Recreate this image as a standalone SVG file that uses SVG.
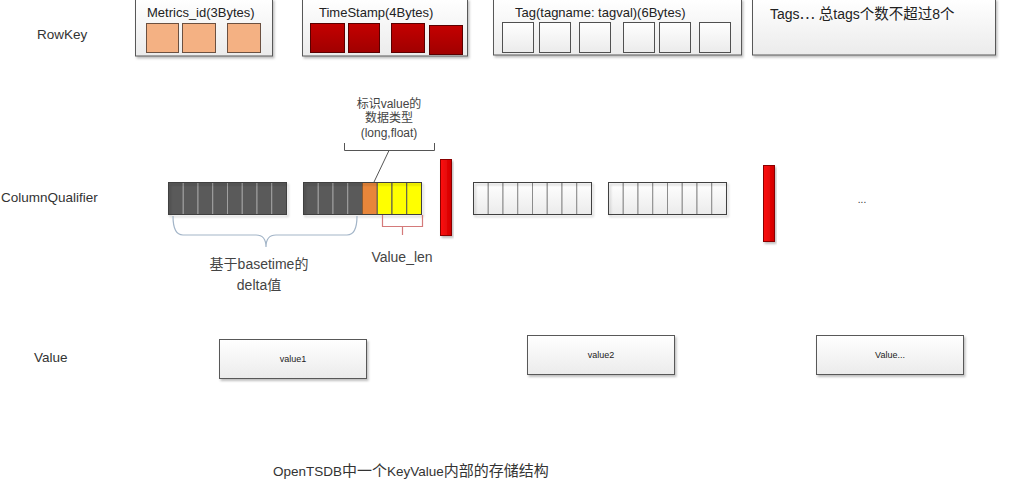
<svg xmlns="http://www.w3.org/2000/svg" width="1024" height="481" viewBox="0 0 1024 481">
<defs>
<linearGradient id="gBox" x1="0" y1="0" x2="0" y2="1"><stop offset="0" stop-color="#ffffff"/><stop offset="1" stop-color="#ebebeb"/></linearGradient>
<linearGradient id="gRed" x1="0" y1="0" x2="0" y2="1"><stop offset="0" stop-color="#c40000"/><stop offset="1" stop-color="#a00000"/></linearGradient>
<linearGradient id="gBar" x1="0" y1="0" x2="1" y2="0"><stop offset="0" stop-color="#ff1010"/><stop offset="1" stop-color="#d00000"/></linearGradient>
<filter id="sh" x="-10%" y="-10%" width="130%" height="140%"><feDropShadow dx="1.5" dy="2" stdDeviation="1.2" flood-color="#000" flood-opacity="0.25"/></filter>
</defs>
<style>
text{font-family:"Liberation Sans","Noto Sans CJK SC",sans-serif;fill:#333}
.lbl{font-size:13.5px}
.hdr{font-size:13px;fill:#222}
.cjk{font-size:15px}
.cjk2{font-family:"Noto Sans CJK SC",sans-serif;font-size:14.5px}
.box{fill:url(#gBox);stroke:#595959;stroke-width:1}
.sq1{fill:#f4b183;stroke:#6b5040;stroke-width:1}
.sq2{fill:url(#gRed);stroke:#5a0000;stroke-width:1}
.sq3{fill:url(#gBox);stroke:#505050;stroke-width:1}
.dk{fill:#5a5a5a;stroke:#a0a0a0;stroke-width:1}
.dko{fill:none;stroke:#404040;stroke-width:1}
.wh{fill:url(#gBox);stroke:#8c8c8c;stroke-width:1}
.who{fill:none;stroke:#404040;stroke-width:1}
.bar{fill:url(#gBar);stroke:#8a0000;stroke-width:1}
.vt{font-size:9px;fill:#222}
.note{font-size:12px;fill:#444}
.ann{font-size:14px;fill:#444}
</style>

<g id="labels">
<text class="lbl" x="37" y="39">RowKey</text>
<text class="lbl" x="1" y="202">ColumnQualifier</text>
<text class="lbl" x="34" y="362">Value</text>
<text class="lbl" x="273" y="476">OpenTSDB<tspan class="cjk">中一个</tspan>KeyValue<tspan class="cjk">内部的存储结构</tspan></text>
</g>

<g id="metrics">
<rect class="box" x="135.5" y="-1" width="137" height="57" filter="url(#sh)"/>
<text class="hdr" x="147" y="17">Metrics_id(3Bytes)</text>
<rect class="sq1" x="146.5" y="23.5" width="32" height="29"/>
<rect class="sq1" x="182.5" y="23.5" width="33" height="29"/>
<rect class="sq1" x="227.5" y="23.5" width="33" height="29"/>
</g>

<g id="timestamp">
<rect class="box" x="302.5" y="-1" width="165" height="57" filter="url(#sh)"/>
<text class="hdr" x="319" y="17">TimeStamp(4Bytes)</text>
<rect class="sq2" x="310.5" y="23.5" width="34" height="29"/>
<rect class="sq2" x="348.5" y="23.5" width="31" height="29"/>
<rect class="sq2" x="391.5" y="23.5" width="33" height="29"/>
<rect class="sq2" x="429.5" y="25.5" width="33" height="29"/>
</g>

<g id="tag">
<rect class="box" x="493.5" y="-1" width="248" height="56" filter="url(#sh)"/>
<text class="hdr" x="515" y="17">Tag(tagname: tagval)(6Bytes)</text>
<rect class="sq3" x="502.5" y="22.5" width="31" height="30"/>
<rect class="sq3" x="539.5" y="22.5" width="31" height="30"/>
<rect class="sq3" x="579.5" y="22.5" width="31" height="30"/>
<rect class="sq3" x="623.5" y="22.5" width="31" height="30"/>
<rect class="sq3" x="659.5" y="22.5" width="31" height="30"/>
<rect class="sq3" x="699.5" y="22.5" width="31" height="30"/>
</g>

<g id="tags">
<rect class="box" x="752.5" y="-1" width="243" height="56" filter="url(#sh)"/>
<text class="hdr" x="770" y="19" style="font-size:14px">Tags<tspan class="cjk2">…</tspan> <tspan class="cjk2">总</tspan>tags<tspan class="cjk2">个数不超过</tspan>8<tspan class="cjk2">个</tspan></text>
</g>

<g id="cq-delta1">
<rect class="dk" x="168.5" y="182.5" width="14.75" height="32"/>
<rect class="dk" x="183.25" y="182.5" width="14.75" height="32"/>
<rect class="dk" x="198" y="182.5" width="14.75" height="32"/>
<rect class="dk" x="212.75" y="182.5" width="14.75" height="32"/>
<rect class="dk" x="227.5" y="182.5" width="14.75" height="32"/>
<rect class="dk" x="242.25" y="182.5" width="14.75" height="32"/>
<rect class="dk" x="257" y="182.5" width="14.75" height="32"/>
<rect class="dk" x="271.75" y="182.5" width="14.75" height="32"/>
<rect class="dko" x="168.5" y="182.5" width="118" height="32" filter="url(#sh)"/>
</g>

<g id="cq-delta2">
<rect class="dk" x="303.5" y="182.5" width="14.75" height="32"/>
<rect class="dk" x="318.25" y="182.5" width="14.75" height="32"/>
<rect class="dk" x="333" y="182.5" width="14.75" height="32"/>
<rect class="dk" x="347.75" y="182.5" width="14.75" height="32"/>
<rect x="362.5" y="182.5" width="14.75" height="32" fill="#e8863a" stroke="#8a5a30" stroke-width="1"/>
<rect x="377.25" y="182.5" width="14.75" height="32" fill="#ffff00" stroke="#555" stroke-width="1"/>
<rect x="392" y="182.5" width="14.75" height="32" fill="#ffff00" stroke="#555" stroke-width="1"/>
<rect x="406.75" y="182.5" width="14.75" height="32" fill="#ffff00" stroke="#555" stroke-width="1"/>
<rect class="dko" x="303.5" y="182.5" width="118" height="32" filter="url(#sh)"/>
</g>

<g id="sep1"><rect class="bar" x="440.5" y="159.5" width="11" height="76" filter="url(#sh)"/></g>

<g id="cq-white1">
<rect class="wh" x="473.5" y="182.5" width="14.75" height="32"/>
<rect class="wh" x="488.25" y="182.5" width="14.75" height="32"/>
<rect class="wh" x="503" y="182.5" width="14.75" height="32"/>
<rect class="wh" x="517.75" y="182.5" width="14.75" height="32"/>
<rect class="wh" x="532.5" y="182.5" width="14.75" height="32"/>
<rect class="wh" x="547.25" y="182.5" width="14.75" height="32"/>
<rect class="wh" x="562" y="182.5" width="14.75" height="32"/>
<rect class="wh" x="576.75" y="182.5" width="14.75" height="32"/>
<rect class="who" x="473.5" y="182.5" width="118" height="32" filter="url(#sh)"/>
</g>

<g id="cq-white2">
<rect class="wh" x="608.5" y="182.5" width="14.75" height="32"/>
<rect class="wh" x="623.25" y="182.5" width="14.75" height="32"/>
<rect class="wh" x="638" y="182.5" width="14.75" height="32"/>
<rect class="wh" x="652.75" y="182.5" width="14.75" height="32"/>
<rect class="wh" x="667.5" y="182.5" width="14.75" height="32"/>
<rect class="wh" x="682.25" y="182.5" width="14.75" height="32"/>
<rect class="wh" x="697" y="182.5" width="14.75" height="32"/>
<rect class="wh" x="711.75" y="182.5" width="14.75" height="32"/>
<rect class="who" x="608.5" y="182.5" width="118" height="32" filter="url(#sh)"/>
</g>

<g id="sep2"><rect class="bar" x="763.5" y="165.5" width="11" height="76" filter="url(#sh)"/></g>

<g id="more"><text x="862" y="203" font-size="10" text-anchor="middle" fill="#444">...</text></g>

<g id="notes">
<text class="note" x="389" y="108" text-anchor="middle">标识value的</text>
<text class="note" x="389" y="122" text-anchor="middle">数据类型</text>
<text class="note" x="389" y="137" text-anchor="middle">(long,float)</text>
<text class="ann" x="259" y="269" text-anchor="middle">基于basetime的</text>
<text class="ann" x="259" y="290" text-anchor="middle">delta值</text>
<text class="ann" x="402" y="262" text-anchor="middle">Value_len</text>
</g>

<g id="connectors" fill="none">
<path d="M344.5 143 V150.5 H434.5 V143" stroke="#555" stroke-width="1"/>
<path d="M389 150.5 L374 182" stroke="#555" stroke-width="1"/>
<path d="M173 216 Q173 235 183 235 H256 Q266 235 266 247 Q266 235 276 235 H347 Q357 235 357 216" stroke="#a3b5c8" stroke-width="1.2"/>
<path d="M382.5 215 V226.5 H422.5 V215 M402.5 226.5 V235" stroke="#d47a7a" stroke-width="1.2"/>
</g>

<g id="value1">
<rect class="box" x="219.5" y="339.5" width="147" height="39" filter="url(#sh)"/>
<text class="vt" x="293" y="362" text-anchor="middle">value1</text>
</g>
<g id="value2">
<rect class="box" x="527.5" y="335.5" width="147" height="39" filter="url(#sh)"/>
<text class="vt" x="601" y="358" text-anchor="middle">value2</text>
</g>
<g id="value3">
<rect class="box" x="816.5" y="335.5" width="147" height="39" filter="url(#sh)"/>
<text class="vt" x="890" y="358" text-anchor="middle">Value...</text>
</g>
</svg>
